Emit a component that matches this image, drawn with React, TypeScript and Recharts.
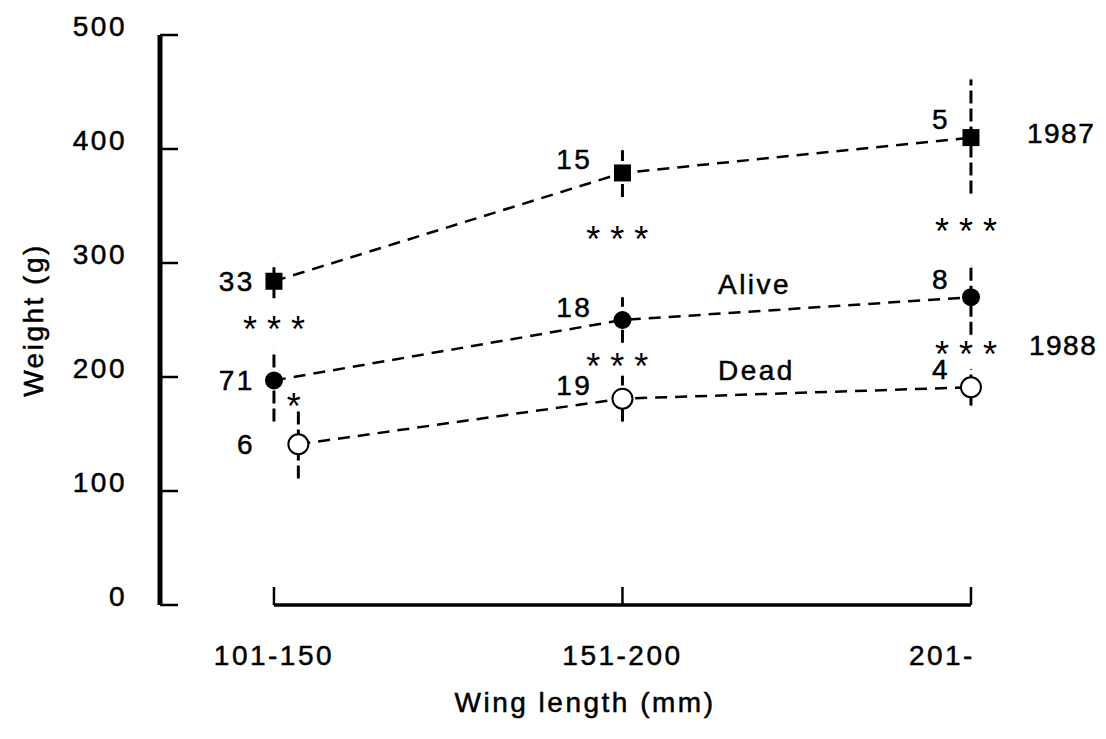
import React from "react"
import { ComposedChart, Line, Scatter, XAxis, YAxis, ErrorBar, ReferenceLine } from "recharts"

// categories (wing length classes) and their positions on the numeric x axis
const CATS = ["101-150", "151-200", "201-"]
const CAT_X = [0, 1, 2]
const DEAD_X = [0.07, 1, 2]
const X_DOMAIN = [-0.327, 2.112]

// mean weight (g), error [down, up] and sample size per group
const W_1987 = [284, 379, 410]
const ERR_1987 = [[15, 16], [21, 20], [49, 51]]
const N_1987 = [33, 15, 5]

const W_ALIVE = [197, 250, 270]
const ERR_ALIVE = [[36, 27], [20, 20], [33, 27]]
const N_ALIVE = [71, 18, 8]

const W_DEAD = [141, 181, 191]
const ERR_DEAD = [[30, 30], [20, 20], [16, 16]]
const N_DEAD = [6, 19, 4]

const Y_TICKS = [0, 100, 200, 300, 400, 500]

// significance marks
const NOTE_TEXT = ["* * *", "*", "* * *", "* * *", "* * *", "* * *"]
const NOTE_X = [0, 0.057, 0.985, 0.985, 1.986, 1.986]
const NOTE_Y = [250, 182, 329, 217, 336, 228]

// series names written into the plot (1987 / 1988 sit right of the last class)
const NAME_TEXT = ["Alive", "Dead", "1987", "1988"]
const NAME_X = [1.274, 1.274, 2, 2]
const NAME_Y = [281, 206, 414, 228]
const NAME_DX = [0, 0, 56, 58]

const FONT = '"Liberation Sans", Arial, Helvetica, sans-serif'
const INK = "#000"
const TEXT_STYLE = { fontSize: 28, letterSpacing: 2.5, fill: INK, stroke: INK, strokeWidth: 0.5 }
const STAR_STYLE = { fontSize: 36, letterSpacing: 0, fill: INK }
// label offset from the point, per category
const COUNT_OFFSET = [[-19, 0], [-30, -13], [-21, -18]]
const TICK_LEN = 18
const Y_TICK_GAP = 33
const X_TICK_GAP = 40

const toSeries = (xs: number[], ws: number[], errs: number[][]) =>
  ws.map((w, i) => ({ x: xs[i], y: w, err: errs[i] }))

const data1987 = toSeries(CAT_X, W_1987, ERR_1987)
const dataAlive = toSeries(CAT_X, W_ALIVE, ERR_ALIVE)
const dataDead = toSeries(DEAD_X, W_DEAD, ERR_DEAD)

const counts = [N_1987, N_ALIVE, N_DEAD].flatMap((ns, s) =>
  ns.map((n, i) => ({ x: CAT_X[i], y: [W_1987, W_ALIVE, W_DEAD][s][i], text: String(n), i }))
)
const notes = NOTE_TEXT.map((t, i) => ({ x: NOTE_X[i], y: NOTE_Y[i], text: t }))
const names = NAME_TEXT.map((t, i) => ({ x: NAME_X[i], y: NAME_Y[i], text: t, i }))

const SquareDot = (p: any) => (
  <rect key={`sq-${p.index}`} x={p.cx - 8.5} y={p.cy - 8.5} width={17} height={17} fill={INK} />
)
const FilledDot = (p: any) => <circle key={`fc-${p.index}`} cx={p.cx} cy={p.cy} r={9} fill={INK} />
const OpenDot = (p: any) => (
  <circle key={`oc-${p.index}`} cx={p.cx} cy={p.cy} r={10} fill="#fff" stroke={INK} strokeWidth={2} />
)

const CountText = (p: any) => {
  const [dx, dy] = COUNT_OFFSET[p.payload.i]
  return (
    <text x={p.cx + dx} y={p.cy + dy} textAnchor="end" dominantBaseline="central" style={TEXT_STYLE}>
      {p.payload.text}
    </text>
  )
}

const NoteText = (p: any) => (
  <text x={p.cx} y={p.cy} dy="0.6em" textAnchor="middle" style={STAR_STYLE}>
    {p.payload.text}
  </text>
)

const NameText = (p: any) => {
  const outside = NAME_DX[p.payload.i] > 0
  return (
    <text
      x={p.cx + NAME_DX[p.payload.i]}
      y={p.cy}
      textAnchor="start"
      dominantBaseline="central"
      style={outside ? { ...TEXT_STYLE, letterSpacing: 1.5 } : TEXT_STYLE}
    >
      {p.payload.text}
    </text>
  )
}

// x tick: label below, short tick pointing up from the axis
const XTick = (p: any) => {
  const last = p.index === CATS.length - 1
  const axisY = p.y - X_TICK_GAP
  return (
    <g>
      <line x1={p.x} x2={p.x} y1={axisY} y2={axisY - TICK_LEN} stroke={INK} strokeWidth={2.5} />
      <text x={p.x + (last ? 4 : 0)} y={p.y} dy="0.71em" textAnchor={last ? "end" : "middle"} style={TEXT_STYLE}>
        {CATS[p.payload.value]}
      </text>
    </g>
  )
}

// y tick: label left of the axis, short tick pointing right into the plot
const YTick = (p: any) => {
  const axisX = p.x + Y_TICK_GAP
  return (
    <g>
      <line x1={axisX} x2={axisX + TICK_LEN} y1={p.y} y2={p.y} stroke={INK} strokeWidth={2.5} />
      <text x={p.x} y={p.y - 9} dy="0.355em" textAnchor="end" style={TEXT_STYLE}>
        {p.payload.value}
      </text>
    </g>
  )
}

export default function App() {
  return (
    <ComposedChart
      width={1090}
      height={722}
      margin={{ top: 27, right: 88, bottom: 0, left: 0 }}
      style={{ fontFamily: FONT }}
    >
      <XAxis
        type="number"
        dataKey="x"
        domain={X_DOMAIN}
        ticks={CAT_X}
        axisLine={false}
        tickLine={false}
        tickMargin={X_TICK_GAP}
        tickSize={0}
        height={125}
        tick={<XTick />}
        label={{ value: "Wing length (mm)", position: "insideBottom", offset: 18, style: TEXT_STYLE }}
      />
      <YAxis
        type="number"
        domain={[0, 500]}
        ticks={Y_TICKS}
        width={152}
        axisLine={false}
        tickLine={false}
        tickSize={0}
        tickMargin={Y_TICK_GAP}
        tick={<YTick />}
        label={{
          value: "Weight (g)",
          angle: -90,
          position: "insideLeft",
          offset: 25,
          style: { ...TEXT_STYLE, textAnchor: "middle" },
        }}
      />
      <ReferenceLine
        segment={[{ x: X_DOMAIN[0], y: 0 }, { x: X_DOMAIN[0], y: 500 }]}
        stroke={INK}
        strokeWidth={5}
        ifOverflow="visible"
      />
      <ReferenceLine
        segment={[{ x: CAT_X[0], y: 0 }, { x: CAT_X[CAT_X.length - 1], y: 0 }]}
        stroke={INK}
        strokeWidth={3.5}
        ifOverflow="visible"
      />

      <Line data={data1987} dataKey="y" stroke={INK} strokeWidth={2.5} strokeDasharray="12 8" dot={SquareDot} activeDot={false} isAnimationActive={false}>
        <ErrorBar dataKey="err" direction="y" width={0} stroke={INK} strokeWidth={3} strokeDasharray="13 5" />
      </Line>
      <Line data={dataAlive} dataKey="y" stroke={INK} strokeWidth={2.5} strokeDasharray="12 8" dot={FilledDot} activeDot={false} isAnimationActive={false}>
        <ErrorBar dataKey="err" direction="y" width={0} stroke={INK} strokeWidth={3} strokeDasharray="13 5" />
      </Line>
      <Line data={dataDead} dataKey="y" stroke={INK} strokeWidth={2.5} strokeDasharray="12 8" dot={OpenDot} activeDot={false} isAnimationActive={false}>
        <ErrorBar dataKey="err" direction="y" width={0} stroke={INK} strokeWidth={3} strokeDasharray="13 5" />
      </Line>

      <Scatter data={counts} dataKey="y" shape={CountText} isAnimationActive={false} />
      <Scatter data={notes} dataKey="y" shape={NoteText} isAnimationActive={false} />
      <Scatter data={names} dataKey="y" shape={NameText} isAnimationActive={false} />
    </ComposedChart>
  )
}
